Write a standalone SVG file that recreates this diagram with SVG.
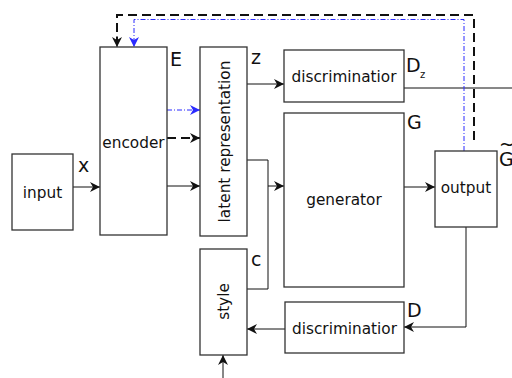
<svg xmlns="http://www.w3.org/2000/svg" width="512" height="378" viewBox="0 0 512 378">
<defs>
<style>
.box{fill:#fff;stroke:#333;stroke-width:1.3}
.t{font-family:"DejaVu Sans",sans-serif;font-size:15.3px;fill:#111;text-anchor:middle}
.lb{font-family:"DejaVu Sans",sans-serif;font-size:19px;fill:#111}
.sub{font-family:"DejaVu Sans",sans-serif;font-size:10px;fill:#111}
.ln{fill:none;stroke:#111;stroke-width:1}
.dash{fill:none;stroke:#111;stroke-width:2;stroke-dasharray:9,5}
.blue{fill:none;stroke:#2b2bff;stroke-width:1;stroke-dasharray:5,2,1,2}
</style>
<marker id="ah" viewBox="0 0 10 10" refX="10" refY="5" markerWidth="10" markerHeight="10" markerUnits="userSpaceOnUse" orient="auto">
<path d="M0,0 L10,5 L0,10 L3,5 z" fill="#111"/>
</marker>
<marker id="ahb" viewBox="0 0 10 10" refX="10" refY="5" markerWidth="10" markerHeight="10" markerUnits="userSpaceOnUse" orient="auto">
<path d="M0,0 L10,5 L0,10 L3,5 z" fill="#2b2bff"/>
</marker>
</defs>
<rect width="512" height="378" fill="#fff"/>
<g id="connectors">
<path class="ln" d="M73,187 H100" marker-end="url(#ah)"/>
<path class="blue" d="M167,110 H200" marker-end="url(#ahb)"/>
<path class="dash" d="M167,138 H200" marker-end="url(#ah)"/>
<path class="ln" d="M167,186 H200" marker-end="url(#ah)"/>
<path class="ln" d="M247,84 H284" marker-end="url(#ah)"/>
<path class="ln" d="M247,160 H268 V289 H247"/>
<path class="ln" d="M268,186 H284" marker-end="url(#ah)"/>
<path class="ln" d="M404,187 H435" marker-end="url(#ah)"/>
<path class="ln" d="M404,88 H512"/>
<path class="ln" d="M466,227 V327 H404" marker-end="url(#ah)"/>
<path class="ln" stroke="#555" d="M285,329 H247" marker-end="url(#ah)"/>
<path class="ln" d="M223,378 V355" marker-end="url(#ah)"/>
<path class="dash" d="M474,140 V15 H117 V45"/>
<path class="ln" d="M117,36 V47" marker-end="url(#ah)"/>
<path class="blue" d="M464,151 V19.5 H134 V47" marker-end="url(#ahb)"/>
</g>
<g id="input"><rect class="box" x="12" y="154" width="61" height="76"/><text class="t" x="42.5" y="198">input</text><text class="lb" x="78" y="172">x</text></g>
<g id="encoder"><rect class="box" x="100" y="47" width="67" height="188"/><text class="t" x="133.5" y="148">encoder</text><text class="lb" x="170" y="66">E</text></g>
<g id="latent"><rect class="box" x="200" y="47" width="47" height="189"/><text class="t" transform="translate(230,141.5) rotate(-90)" x="0" y="0">latent representation</text><text class="lb" x="251" y="64">z</text></g>
<g id="style"><rect class="box" x="200" y="249" width="47" height="106"/><text class="t" transform="translate(229,301.5) rotate(-90)" x="0" y="0">style</text><text class="lb" x="251" y="266">c</text></g>
<g id="discz"><rect class="box" x="284" y="50" width="120" height="52"/><text class="t" x="344" y="82">discriminatior</text><text class="lb" x="406" y="72">D</text><text class="sub" x="420" y="78">z</text></g>
<g id="generator"><rect class="box" x="284" y="113" width="120" height="174"/><text class="t" x="344" y="205">generator</text><text class="lb" x="407" y="129">G</text></g>
<g id="output"><rect class="box" x="435" y="151" width="62" height="76"/><text class="t" x="466" y="193">output</text><text class="lb" x="499" y="166">G</text><text class="lb" x="499" y="151">~</text></g>
<g id="disc"><rect class="box" x="285" y="302" width="119" height="51"/><text class="t" x="344.5" y="334">discriminatior</text><text class="lb" x="407" y="317">D</text></g>
</svg>
